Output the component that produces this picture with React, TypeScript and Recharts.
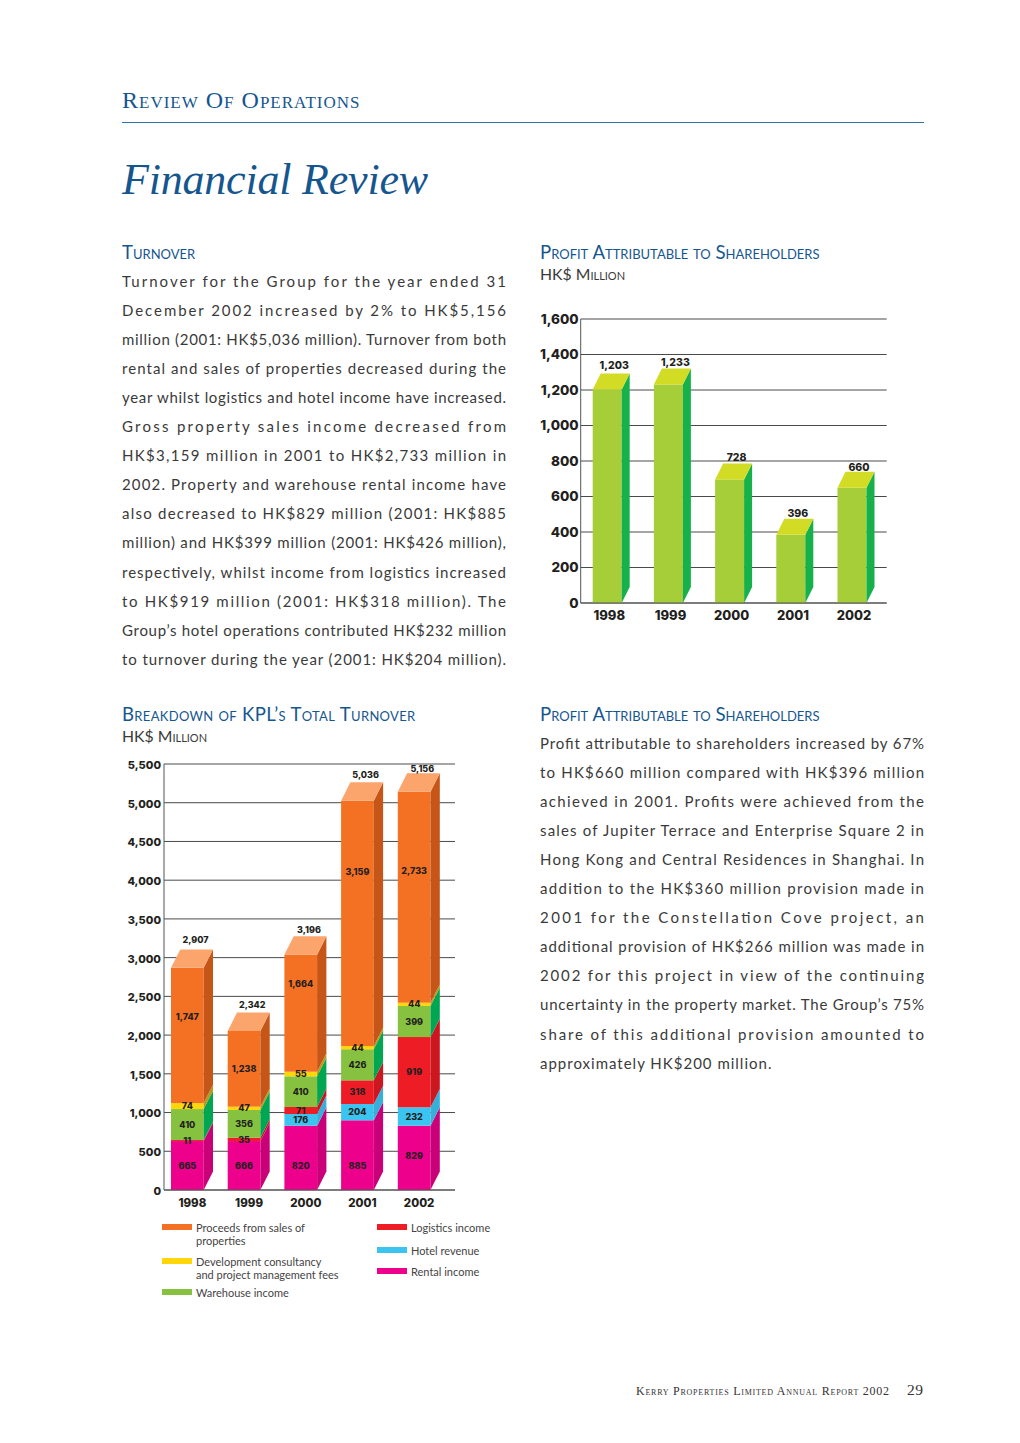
import React from 'react';
import { BarChart, Bar, XAxis, YAxis, CartesianGrid, LabelList } from 'recharts';

const years = ['1998', '1999', '2000', '2001', '2002'];

// Profit chart: bar heights as drawn in the picture, labels as printed (they differ a little)
const profitBars = [1203, 1231, 696, 384, 649];
const profitPrinted = ['1,203', '1,233', '728', '396', '660'];
const profitTicks = [0, 200, 400, 600, 800, 1000, 1200, 1400, 1600];

// Turnover chart: segment heights as drawn
const rentalBars = [632, 632, 830, 900, 830];
const hotelBars = [0, 0, 151, 210, 238];
const logisticsBars = [13, 43, 91, 306, 907];
const warehouseBars = [400, 358, 396, 401, 401];
const devBars = [77, 43, 59, 42, 42];
const salesBars = [1747, 977, 1511, 3167, 2724];

// Turnover chart: numbers as printed
const rentalPrinted = ['665', '666', '820', '885', '829'];
const hotelPrinted = ['', '', '176', '204', '232'];
const logisticsPrinted = ['11', '35', '71', '318', '919'];
const warehousePrinted = ['410', '356', '410', '426', '399'];
const devPrinted = ['74', '47', '55', '44', '44'];
const salesPrinted = ['1,747', '1,238', '1,664', '3,159', '2,733'];
const totalPrinted = ['2,907', '2,342', '3,196', '5,036', '5,156'];
const turnoverTicks = [0, 500, 1000, 1500, 2000, 2500, 3000, 3500, 4000, 4500, 5000, 5500];

const turnoverText = [
  'Turnover for the Group for the year ended 31',
  'December 2002 increased by 2% to HK$5,156',
  'million (2001: HK$5,036 million). Turnover from both',
  'rental and sales of properties decreased during the',
  'year whilst logistics and hotel income have increased.',
  'Gross property sales income decreased from',
  'HK$3,159 million in 2001 to HK$2,733 million in',
  '2002. Property and warehouse rental income have',
  'also decreased to HK$829 million (2001: HK$885',
  'million) and HK$399 million (2001: HK$426 million),',
  'respectively, whilst income from logistics increased',
  'to HK$919 million (2001: HK$318 million). The',
  'Group\u2019s hotel operations contributed HK$232 million',
  'to turnover during the year (2001: HK$204 million).',
];

const profitText = [
  'Profit attributable to shareholders increased by 67%',
  'to HK$660 million compared with HK$396 million',
  'achieved in 2001. Profits were achieved from the',
  'sales of Jupiter Terrace and Enterprise Square 2 in',
  'Hong Kong and Central Residences in Shanghai. In',
  'addition to the HK$360 million provision made in',
  '2001 for the Constellation Cove project, an',
  'additional provision of HK$266 million was made in',
  '2002 for this project in view of the continuing',
  'uncertainty in the property market. The Group\u2019s 75%',
  'share of this additional provision amounted to',
  'approximately HK$200 million.',
];

const BLUE = '#15568f';
const BODY_FONT = 'Lato, sans-serif';
const CHART_FONT = 'Inter, sans-serif';
const SERIF = '"Liberation Serif", serif';

const profitData = years.map((year, i) => ({ year, profit: profitBars[i], printed: profitPrinted[i] }));

const turnoverData = years.map((year, i) => ({
  year,
  rental: rentalBars[i],
  hotel: hotelBars[i],
  logistics: logisticsBars[i],
  warehouse: warehouseBars[i],
  dev: devBars[i],
  sales: salesBars[i],
  rentalPrinted: rentalPrinted[i],
  hotelPrinted: hotelPrinted[i],
  logisticsPrinted: logisticsPrinted[i],
  warehousePrinted: warehousePrinted[i],
  devPrinted: devPrinted[i],
  salesPrinted: salesPrinted[i],
}));

// label nudges in px, the printed numbers do not sit mid-segment everywhere
const rentalShift = [0, 0, 8, 11, -2];
const salesShift = [-19, 0, -29, -52, -26];
const totalGap = [6, 5, 3, 4, 1];
const profitGap = [4, 2, 2, 2, 1];

const Box3D = ({ x, y, width, height, dx, dy, front, side, top, children }: any) => {
  if (!height || height <= 0) return null;
  const fx = x;
  const fr = x + width - dx;
  const bottom = y + height;
  return (
    <g>
      <rect x={fx} y={y} width={fr - fx} height={height} fill={front} />
      <polygon
        points={`${fr},${y} ${fr + dx},${y - dy} ${fr + dx},${bottom - dy} ${fr},${bottom}`}
        fill={side}
      />
      {top && <polygon points={`${fx},${y} ${fx + dx},${y - dy} ${fr + dx},${y - dy} ${fr},${y}`} fill={top} />}
      {children}
    </g>
  );
};

const ProfitShape = (props: any) => (
  <Box3D {...props} dx={8} dy={16} front="#a6ce39" side="#17b14b" top="#d2dc25">
    <text
      x={props.x + props.width / 2 + 3}
      y={props.y - 16 - profitGap[props.index]}
      textAnchor="middle"
      fontFamily={CHART_FONT}
      fontWeight={800}
      fontSize={10.5}
      fill="#231f20"
    >
      {profitPrinted[props.index]}
    </text>
  </Box3D>
);

const segmentShape = (front: string, side: string) => (props: any) => (
  <Box3D {...props} dx={9.3} dy={18.4} front={front} side={side} />
);

const SalesShape = (props: any) => (
  <Box3D {...props} dx={9.3} dy={18.4} front="#f47023" side="#c65518" top="#fba56c">
    <text
      x={props.x + props.width / 2 + 3.5}
      y={props.y - 18.4 - totalGap[props.index]}
      textAnchor="middle"
      fontFamily={CHART_FONT}
      fontWeight={800}
      fontSize={9}
      fill="#231f20"
    >
      {totalPrinted[props.index]}
    </text>
  </Box3D>
);

const segmentLabel = (shifts?: number[]) => (props: any) => {
  const { x, y, width, height, value, index } = props;
  if (!value) return null;
  const shift = shifts ? shifts[index] : 0;
  return (
    <text
      x={x + (width - 9.3) / 2}
      y={y + height / 2 + shift}
      dy="0.35em"
      textAnchor="middle"
      fontFamily={CHART_FONT}
      fontWeight={800}
      fontSize={9}
      fill="#231f20"
    >
      {value}
    </text>
  );
};

const ProfitChart = () => (
  <div style={{ position: 'absolute', left: 530, top: 300 }}>
    <BarChart
      width={370}
      height={330}
      data={profitData}
      margin={{ top: 19, right: 13.3, left: 0, bottom: 0 }}
    >
      <CartesianGrid vertical={false} stroke="#4a4a4a" />
      <XAxis
        dataKey="year"
        height={27}
        tickSize={0}
        tickMargin={8}
        tickLine={false}
        axisLine={{ stroke: '#555' }}
        tick={{ fontFamily: CHART_FONT, fontWeight: 800, fontSize: 13, fill: '#231f20', dx: -2 }}
      />
      <YAxis
        width={50.7}
        domain={[0, 1600]}
        ticks={profitTicks}
        interval={0}
        tickFormatter={(v) => Number(v).toLocaleString('en-US')}
        tickSize={0}
        tickMargin={2}
        tickLine={false}
        axisLine={{ stroke: '#555' }}
        tick={{ fontFamily: CHART_FONT, fontWeight: 800, fontSize: 13.5, fill: '#231f20' }}
      />
      <Bar dataKey="profit" barSize={37} shape={ProfitShape} isAnimationActive={false} />
    </BarChart>
  </div>
);

const TurnoverChart = () => (
  <div style={{ position: 'absolute', left: 120, top: 750 }}>
    <BarChart
      width={345}
      height={470}
      data={turnoverData}
      margin={{ top: 14, right: 10, left: 0, bottom: 0 }}
    >
      <CartesianGrid vertical={false} stroke="#4a4a4a" />
      <XAxis
        dataKey="year"
        height={30}
        padding={{ left: 0, right: 7.5 }}
        tickSize={0}
        tickMargin={9}
        tickLine={false}
        axisLine={{ stroke: '#555' }}
        tick={{ fontFamily: CHART_FONT, fontWeight: 800, fontSize: 11.5, fill: '#231f20' }}
      />
      <YAxis
        width={44}
        domain={[0, 5500]}
        ticks={turnoverTicks}
        interval={0}
        tickFormatter={(v) => Number(v).toLocaleString('en-US')}
        tickSize={0}
        tickMargin={3}
        tickLine={false}
        axisLine={{ stroke: '#555' }}
        tick={{ fontFamily: CHART_FONT, fontWeight: 800, fontSize: 11, fill: '#231f20', dy: 1 }}
      />
      <Bar dataKey="rental" stackId="a" barSize={42} shape={segmentShape('#ec008c', '#c90078')} isAnimationActive={false}>
        <LabelList dataKey="rentalPrinted" content={segmentLabel(rentalShift)} />
      </Bar>
      <Bar dataKey="hotel" stackId="a" barSize={42} shape={segmentShape('#3cc4f1', '#36b0d9')} isAnimationActive={false}>
        <LabelList dataKey="hotelPrinted" content={segmentLabel()} />
      </Bar>
      <Bar dataKey="logistics" stackId="a" barSize={42} shape={segmentShape('#ee1c25', '#cc1720')} isAnimationActive={false}>
        <LabelList dataKey="logisticsPrinted" content={segmentLabel()} />
      </Bar>
      <Bar dataKey="warehouse" stackId="a" barSize={42} shape={segmentShape('#86c23f', '#00a651')} isAnimationActive={false}>
        <LabelList dataKey="warehousePrinted" content={segmentLabel()} />
      </Bar>
      <Bar dataKey="dev" stackId="a" barSize={42} shape={segmentShape('#ffd60a', '#b79a1c')} isAnimationActive={false}>
        <LabelList dataKey="devPrinted" content={segmentLabel()} />
      </Bar>
      <Bar dataKey="sales" stackId="a" barSize={42} shape={SalesShape} isAnimationActive={false}>
        <LabelList dataKey="salesPrinted" content={segmentLabel(salesShift)} />
      </Bar>
    </BarChart>
  </div>
);

const LINE_STEP = 29.05;

// textLength spreads the spare room over the letters, the way the printed column is set
const Paragraph = ({ lines, left, top, justifyLast }: any) => (
  <svg
    width={384}
    height={lines.length * LINE_STEP + 10}
    style={{ position: 'absolute', left, top, fontFamily: BODY_FONT, fontSize: 15, fill: '#3a3a3a' }}
  >
    {lines.map((line: string, i: number) => {
      const justified = justifyLast || i < lines.length - 1;
      return (
        <text
          key={i}
          x={0}
          y={20 + i * LINE_STEP}
          textLength={justified ? 384 : undefined}
          lengthAdjust={justified ? 'spacing' : undefined}
          letterSpacing={justified ? undefined : 1}
        >
          {line}
        </text>
      );
    })}
  </svg>
);

const Heading = ({ left, top, spacing, children }: any) => (
  <div
    style={{
      position: 'absolute',
      left,
      top,
      fontFamily: BODY_FONT,
      fontVariant: 'small-caps',
      fontSize: 18.6,
      letterSpacing: spacing || 0,
      lineHeight: '24px',
      color: BLUE,
      whiteSpace: 'nowrap',
    }}
  >
    {children}
  </div>
);

const Unit = ({ left, top }: any) => (
  <div
    style={{
      position: 'absolute',
      left,
      top,
      fontFamily: BODY_FONT,
      fontVariant: 'small-caps',
      fontSize: 15.8,
      lineHeight: '20px',
      color: '#3a3a3a',
      whiteSpace: 'nowrap',
    }}
  >
    HK$ Million
  </div>
);

const LegendItem = ({ left, top, color, lines }: any) => (
  <div style={{ position: 'absolute', left, top, fontFamily: BODY_FONT, fontSize: 11, lineHeight: '13px', color: '#444', whiteSpace: 'nowrap' }}>
    <div style={{ position: 'absolute', left: 0, top: 3, width: 30, height: 6, background: color }} />
    <div style={{ marginLeft: 34 }}>
      {lines.map((l: string) => (
        <div key={l}>{l}</div>
      ))}
    </div>
  </div>
);

const App: React.FC = () => {
  return (
    <div style={{ position: 'absolute', left: 0, top: 0, width: 1020, height: 1443, background: '#fff', overflow: 'hidden' }}>
      <div style={{ position: 'absolute', left: 122, top: 85, fontFamily: SERIF, fontVariant: 'small-caps', fontSize: 24, letterSpacing: 1, lineHeight: '30px', color: BLUE, whiteSpace: 'nowrap' }}>
        Review Of Operations
      </div>
      <div style={{ position: 'absolute', left: 122, top: 122, width: 802, height: 1, background: '#2e75a8' }} />
      <div style={{ position: 'absolute', left: 122, top: 153, fontFamily: SERIF, fontStyle: 'italic', fontSize: 44, letterSpacing: -0.2, lineHeight: '54px', color: BLUE, whiteSpace: 'nowrap' }}>
        Financial Review
      </div>

      <Heading left={122} top={240}>Turnover</Heading>
      <Paragraph lines={turnoverText} left={122} top={267} justifyLast />

      <Heading left={540} top={240}>Profit Attributable to Shareholders</Heading>
      <Unit left={540} top={264} />
      <ProfitChart />

      <Heading left={122} top={702} spacing={0.32}>Breakdown of KPL{'\u2019'}s Total Turnover</Heading>
      <Unit left={122} top={726} />
      <TurnoverChart />

      <LegendItem left={162} top={1221} color="#f47023" lines={['Proceeds from sales of', 'properties']} />
      <LegendItem left={162} top={1255} color="#ffd60a" lines={['Development consultancy', 'and project management fees']} />
      <LegendItem left={162} top={1286} color="#86c23f" lines={['Warehouse income']} />
      <LegendItem left={377} top={1221} color="#ee1c25" lines={['Logistics income']} />
      <LegendItem left={377} top={1244} color="#3cc4f1" lines={['Hotel revenue']} />
      <LegendItem left={377} top={1265} color="#ec008c" lines={['Rental income']} />

      <Heading left={540} top={702}>Profit Attributable to Shareholders</Heading>
      <Paragraph lines={profitText} left={540} top={729} />

      <div style={{ position: 'absolute', left: 636, top: 1384, fontFamily: SERIF, fontVariant: 'small-caps', fontSize: 12, letterSpacing: 0.75, lineHeight: '14px', color: '#333', whiteSpace: 'nowrap' }}>
        Kerry Properties Limited Annual Report 2002
      </div>
      <div style={{ position: 'absolute', left: 907, top: 1381, fontFamily: SERIF, fontSize: 15.5, letterSpacing: 0.5, lineHeight: '18px', color: '#333' }}>29</div>
    </div>
  );
};

export default App;
